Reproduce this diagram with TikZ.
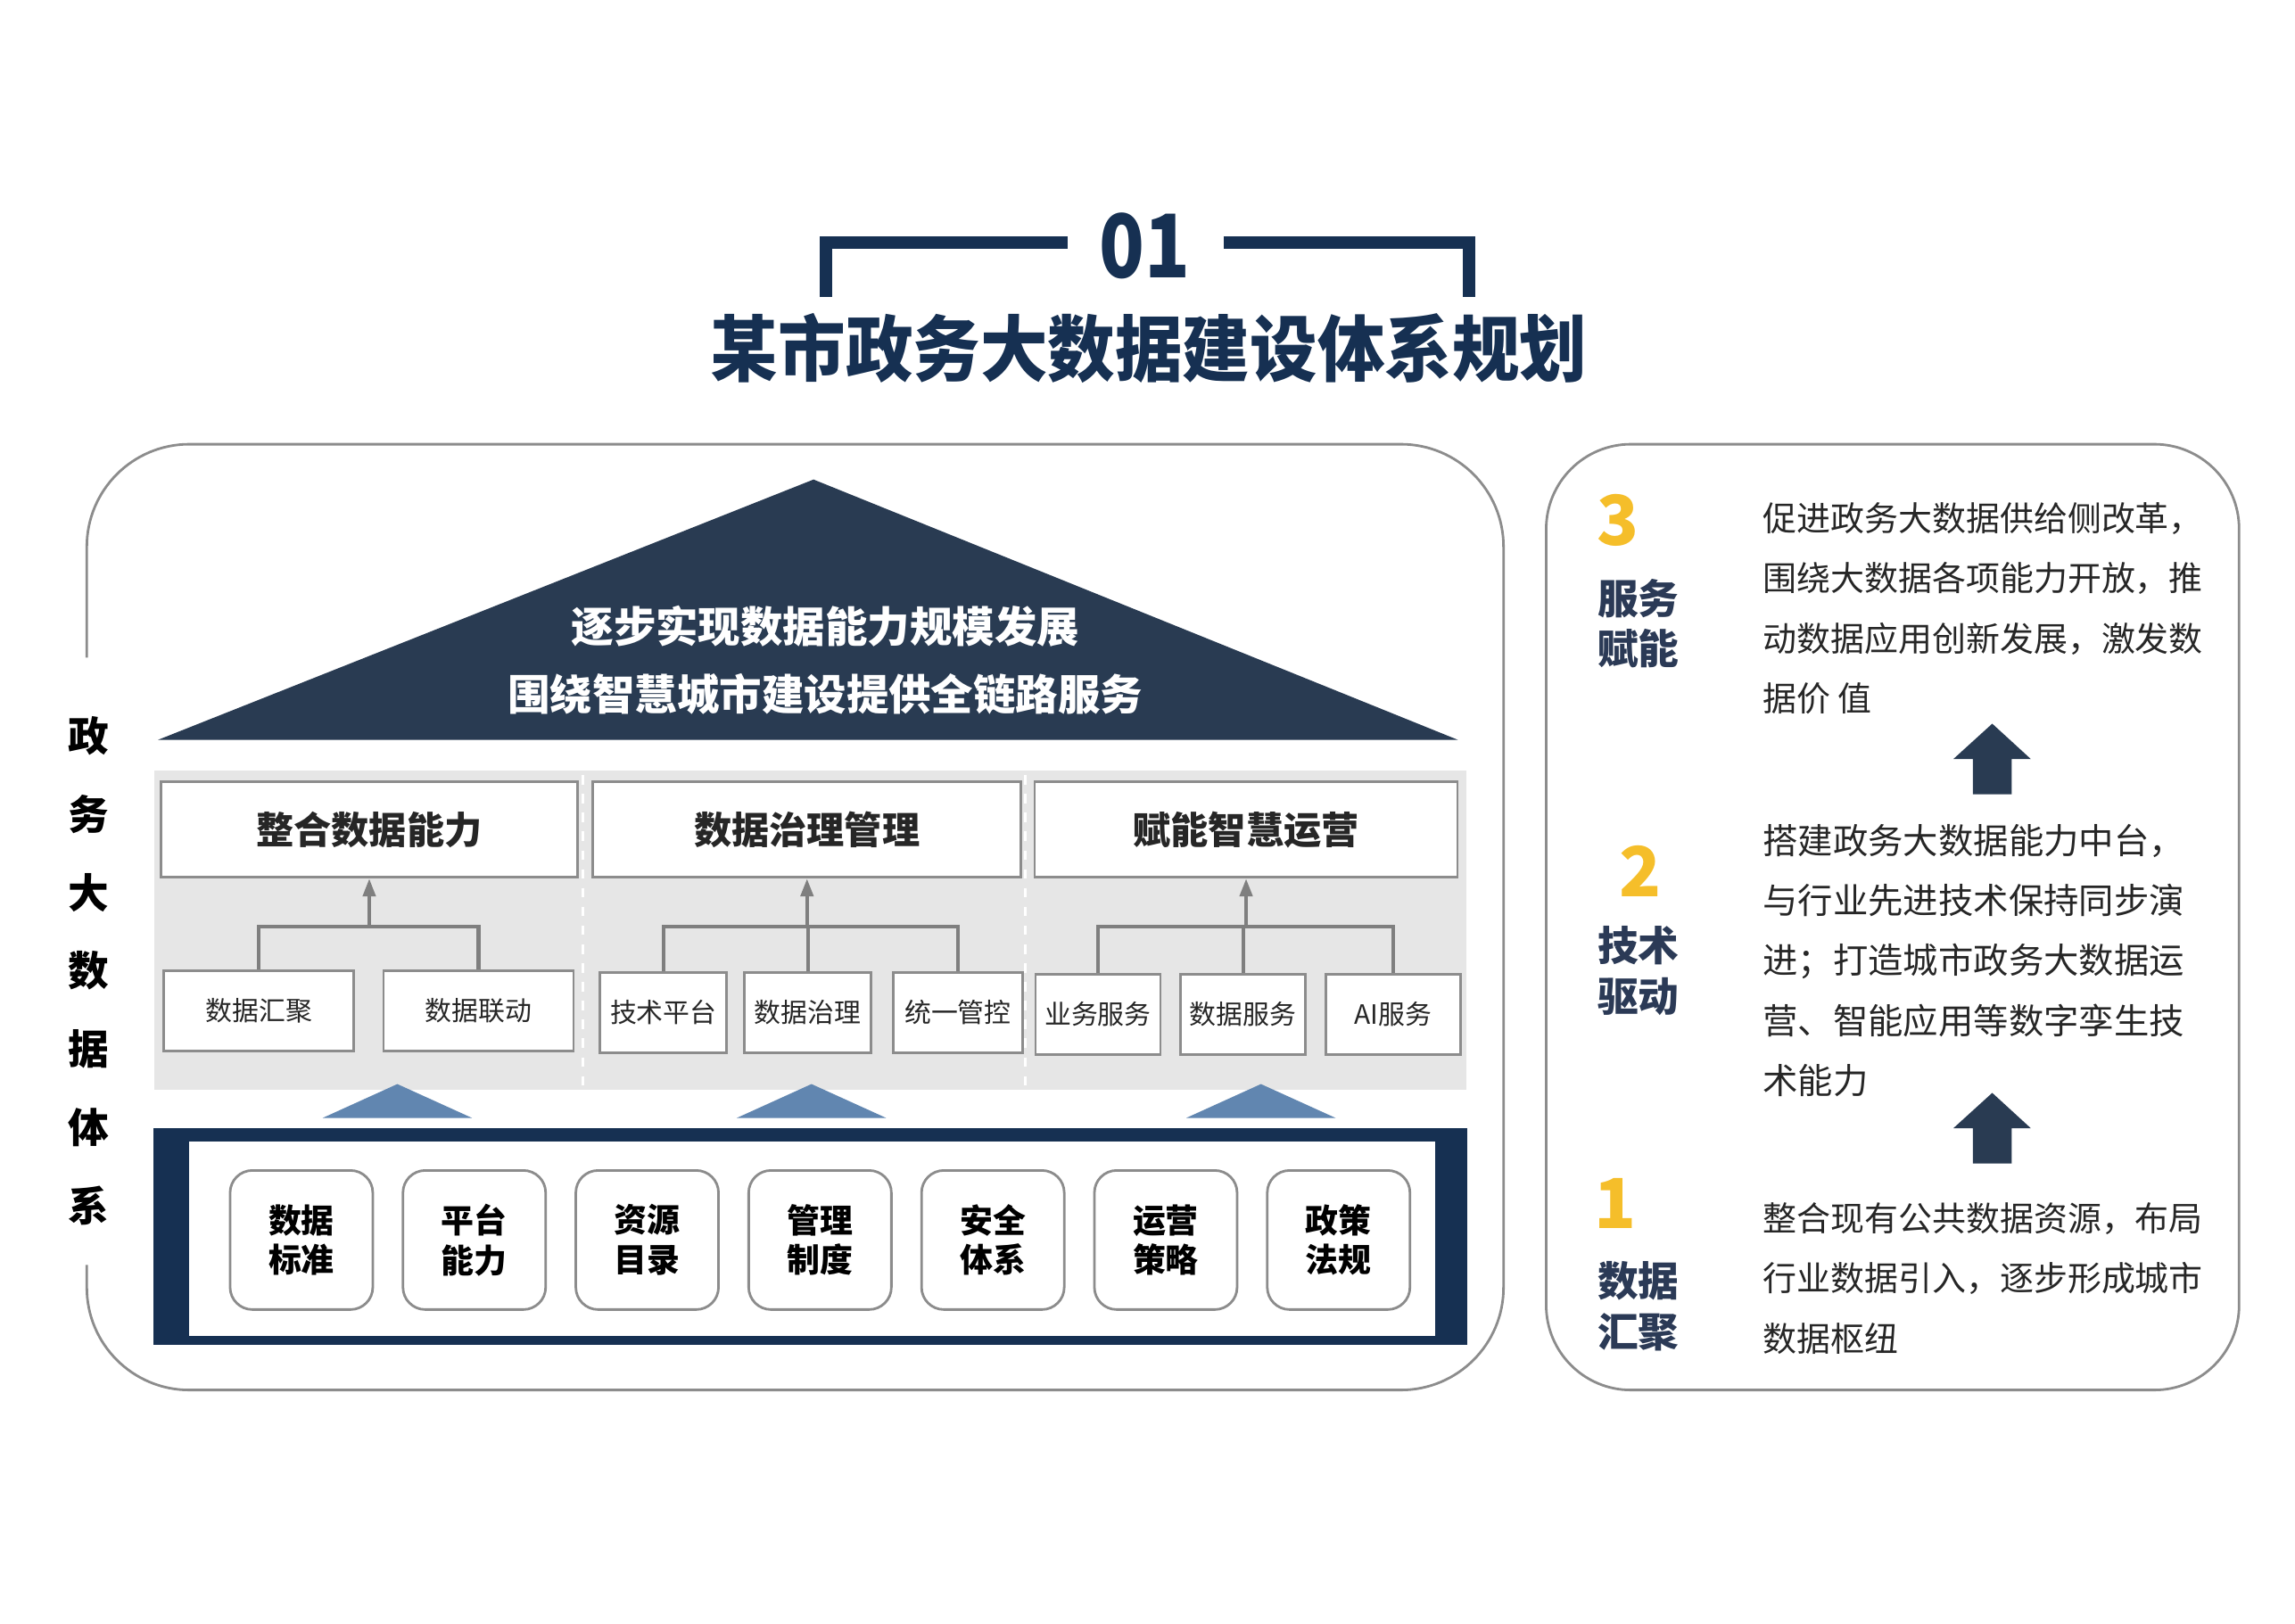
\documentclass[tikz,border=0pt]{standalone}
\usepackage{fontspec}
\setmainfont{Noto Sans CJK SC}
\usetikzlibrary{positioning, arrows.meta}
\definecolor{navy}{RGB}{22,48,82}
\definecolor{roof}{RGB}{41,59,82}
\definecolor{tagnavy}{RGB}{43,58,86}
\definecolor{gold}{RGB}{245,190,42}
\definecolor{lblue}{RGB}{97,134,176}
\definecolor{band}{RGB}{230,230,230}
\definecolor{linegray}{RGB}{140,140,140}
\definecolor{conngray}{RGB}{127,127,127}
\definecolor{txtdark}{RGB}{38,38,38}

\begin{document}
\begin{tikzpicture}[x=0.16494mm, y=-0.16494mm,
    panel/.style={draw=linegray, line width=0.8pt},
    box/.style={draw=linegray, line width=0.8pt, fill=white},
    hdr/.style={box, minimum height=1.07cm, text=txtdark, font=\fontsize{12}{14}\selectfont\bfseries},
    sub/.style={box, minimum height=0.9cm, inner sep=1pt, text=txtdark, font=\fontsize{8.5}{10}\selectfont},
    base/.style={box, rounded corners=2.5mm, minimum width=1.6cm, minimum height=1.56cm, align=center, font=\fontsize{10.5}{12.7}\selectfont\bfseries},
    link/.style={draw=conngray, line width=1.2pt},
    num/.style={text=gold, font=\fontsize{22}{22}\selectfont\bfseries},
    tag/.style={text=tagnavy, align=center, font=\fontsize{13}{16}\selectfont\bfseries},
    body/.style={anchor=west, align=left, inner sep=0pt, text=txtdark, font=\fontsize{10.8}{19.2}\selectfont},
    ]
    \useasboundingbox (0,0) rectangle (1560,1103.5);
    %
    % title
    \node [text=navy, xscale=0.85, transform shape, font=\fontsize{28}{28}\selectfont\bfseries] (no) at (778,167) {01};
    \node [text=navy, xscale=0.935, transform shape, font=\fontsize{23}{23}\selectfont\bfseries] (title) at (781,237) {某市政务大数据建设体系规划};
    \draw [navy, line width=4pt] (561.6,202) -- (561.6,165) -- (726,165);
    \draw [navy, line width=4pt] (831.7,165) -- (998.4,165) -- (998.4,202);
    %
    % left panel
    \draw [panel, rounded corners=1.15cm] (59,447) -- (59,302) -- (1022,302) -- (1022,945) -- (59,945) -- (59,860);
    \node [align=center, font=\fontsize{13}{25}\selectfont\bfseries] (vt) at (60,660) {政\\务\\大\\数\\据\\体\\系};
    %
    \fill [roof] (553,326) -- (991,503) -- (107.4,503) -- cycle;
    \node [text=white, align=center, font=\fontsize{13.5}{21.6}\selectfont\bfseries] (goal) at (561,449)
        {逐步实现数据能力规模发展\\围绕智慧城市建设提供全链路服务};
    %
    \fill [band] (105,524) rectangle (997,741);
    \draw [white, dashed, line width=0.8pt] (396.3,527) -- (396.3,740);
    \draw [white, dashed, line width=0.8pt] (696.9,527) -- (696.9,740);
    %
    \node [hdr, minimum width=4.67cm] (h1) at (251,564) {整合数据能力};
    \node [hdr, minimum width=4.80cm, right=1.45mm of h1] (h2) {数据治理管理};
    \node [hdr, minimum width=4.74cm, right=1.25mm of h2] (h3) {赋能智慧运营};
    %
    \node [sub, minimum width=2.13cm] (a1) at (176,687) {数据汇聚};
    \node [sub, minimum width=2.13cm, right=3.05mm of a1] (a2) {数据联动};
    \node [sub, minimum width=1.42cm] (b1) at (451,688.5) {技术平台};
    \node [sub, minimum width=1.42cm, right=1.7mm of b1] (b2) {数据治理};
    \node [sub, minimum width=1.45cm, right=2.2mm of b2] (b3) {统一管控};
    \node [sub, minimum width=1.40cm] (c1) at (746.3,689.5) {业务服务};
    \node [sub, minimum width=1.40cm, right=2mm of c1] (c2) {数据服务};
    \node [sub, minimum width=1.51cm, right=2mm of c2] (c3) {AI服务};
    %
    \coordinate (j1) at (h1.south |- 0,630);
    \coordinate (j2) at (h2.south |- 0,630);
    \coordinate (j3) at (h3.south |- 0,630);
    \draw [link] (a1.north) |- (j1) -| (a2.north);
    \draw [link] (b1.north) |- (j2) -| (b3.north);
    \draw [link] (b2.north) -- (b2.north |- j2);
    \draw [link] (c1.north) |- (j3) -| (c3.north);
    \draw [link] (c2.north) -- (c2.north |- j3);
    \draw [link, -{Triangle[length=2mm, width=1.4mm]}] (j1) -- (h1.south);
    \draw [link, -{Triangle[length=2mm, width=1.4mm]}] (j2) -- (h2.south);
    \draw [link, -{Triangle[length=2mm, width=1.4mm]}] (j3) -- (h3.south);
    %
    \foreach \x in {270.1,551.6,857.1}
        \fill [lblue] (\x,737) -- ++(50.7,23) -- ++(-101.4,0) -- cycle;
    %
    \fill [navy] (104,767) rectangle (997.4,914);
    \fill [white] (128.3,776) rectangle (975.5,908);
    \node [base] (s1) at (204.9,843) {数据\\标准};
    \node [base, right=3.1mm of s1] (s2) {平台\\能力};
    \node [base, right=3.1mm of s2] (s3) {资源\\目录};
    \node [base, right=3.1mm of s3] (s4) {管理\\制度};
    \node [base, right=3.1mm of s4] (s5) {安全\\体系};
    \node [base, right=3.1mm of s5] (s6) {运营\\策略};
    \node [base, right=3.1mm of s6] (s7) {政策\\法规};
    %
    % right panel
    \draw [panel, rounded corners=0.95cm] (1051,302) rectangle (1522,945);
    \node [num] (n3) at (1099.8,354) {3};
    \node [tag] (t3) at (1113.7,424) {服务\\赋能};
    \node [body] (p3) at (1197.9,413.5) {促进政务大数据供给侧改革，\\围绕大数据各项能力开放，推\\动数据应用创新发展，激发数\\据价 值};
    \node [num] (n2) at (1114.7,592) {2};
    \node [tag] (t2) at (1113.7,660) {技术\\驱动};
    \node [body, font=\fontsize{11.2}{19.2}\selectfont] (p2) at (1197.9,653) {搭建政务大数据能力中台，\\与行业先进技术保持同步演\\进；打造城市政务大数据运\\营、智能应用等数字孪生技\\术能力};
    \node [num] (n1) at (1097.8,818) {1};
    \node [tag] (t1) at (1113.7,888) {数据\\汇聚};
    \node [body] (p1) at (1197.9,869) {整合现有公共数据资源，布局\\行业数据引入，逐步形成城市\\数据枢纽};
    %
    \foreach \y in {492,743}
        \fill [roof] (1354.2,\y) -- ++(26.2,24) -- ++(-13,0) -- ++(0,24) -- ++(-26.4,0) -- ++(0,-24) -- ++(-13.2,0) -- cycle;
\end{tikzpicture}
\end{document}
